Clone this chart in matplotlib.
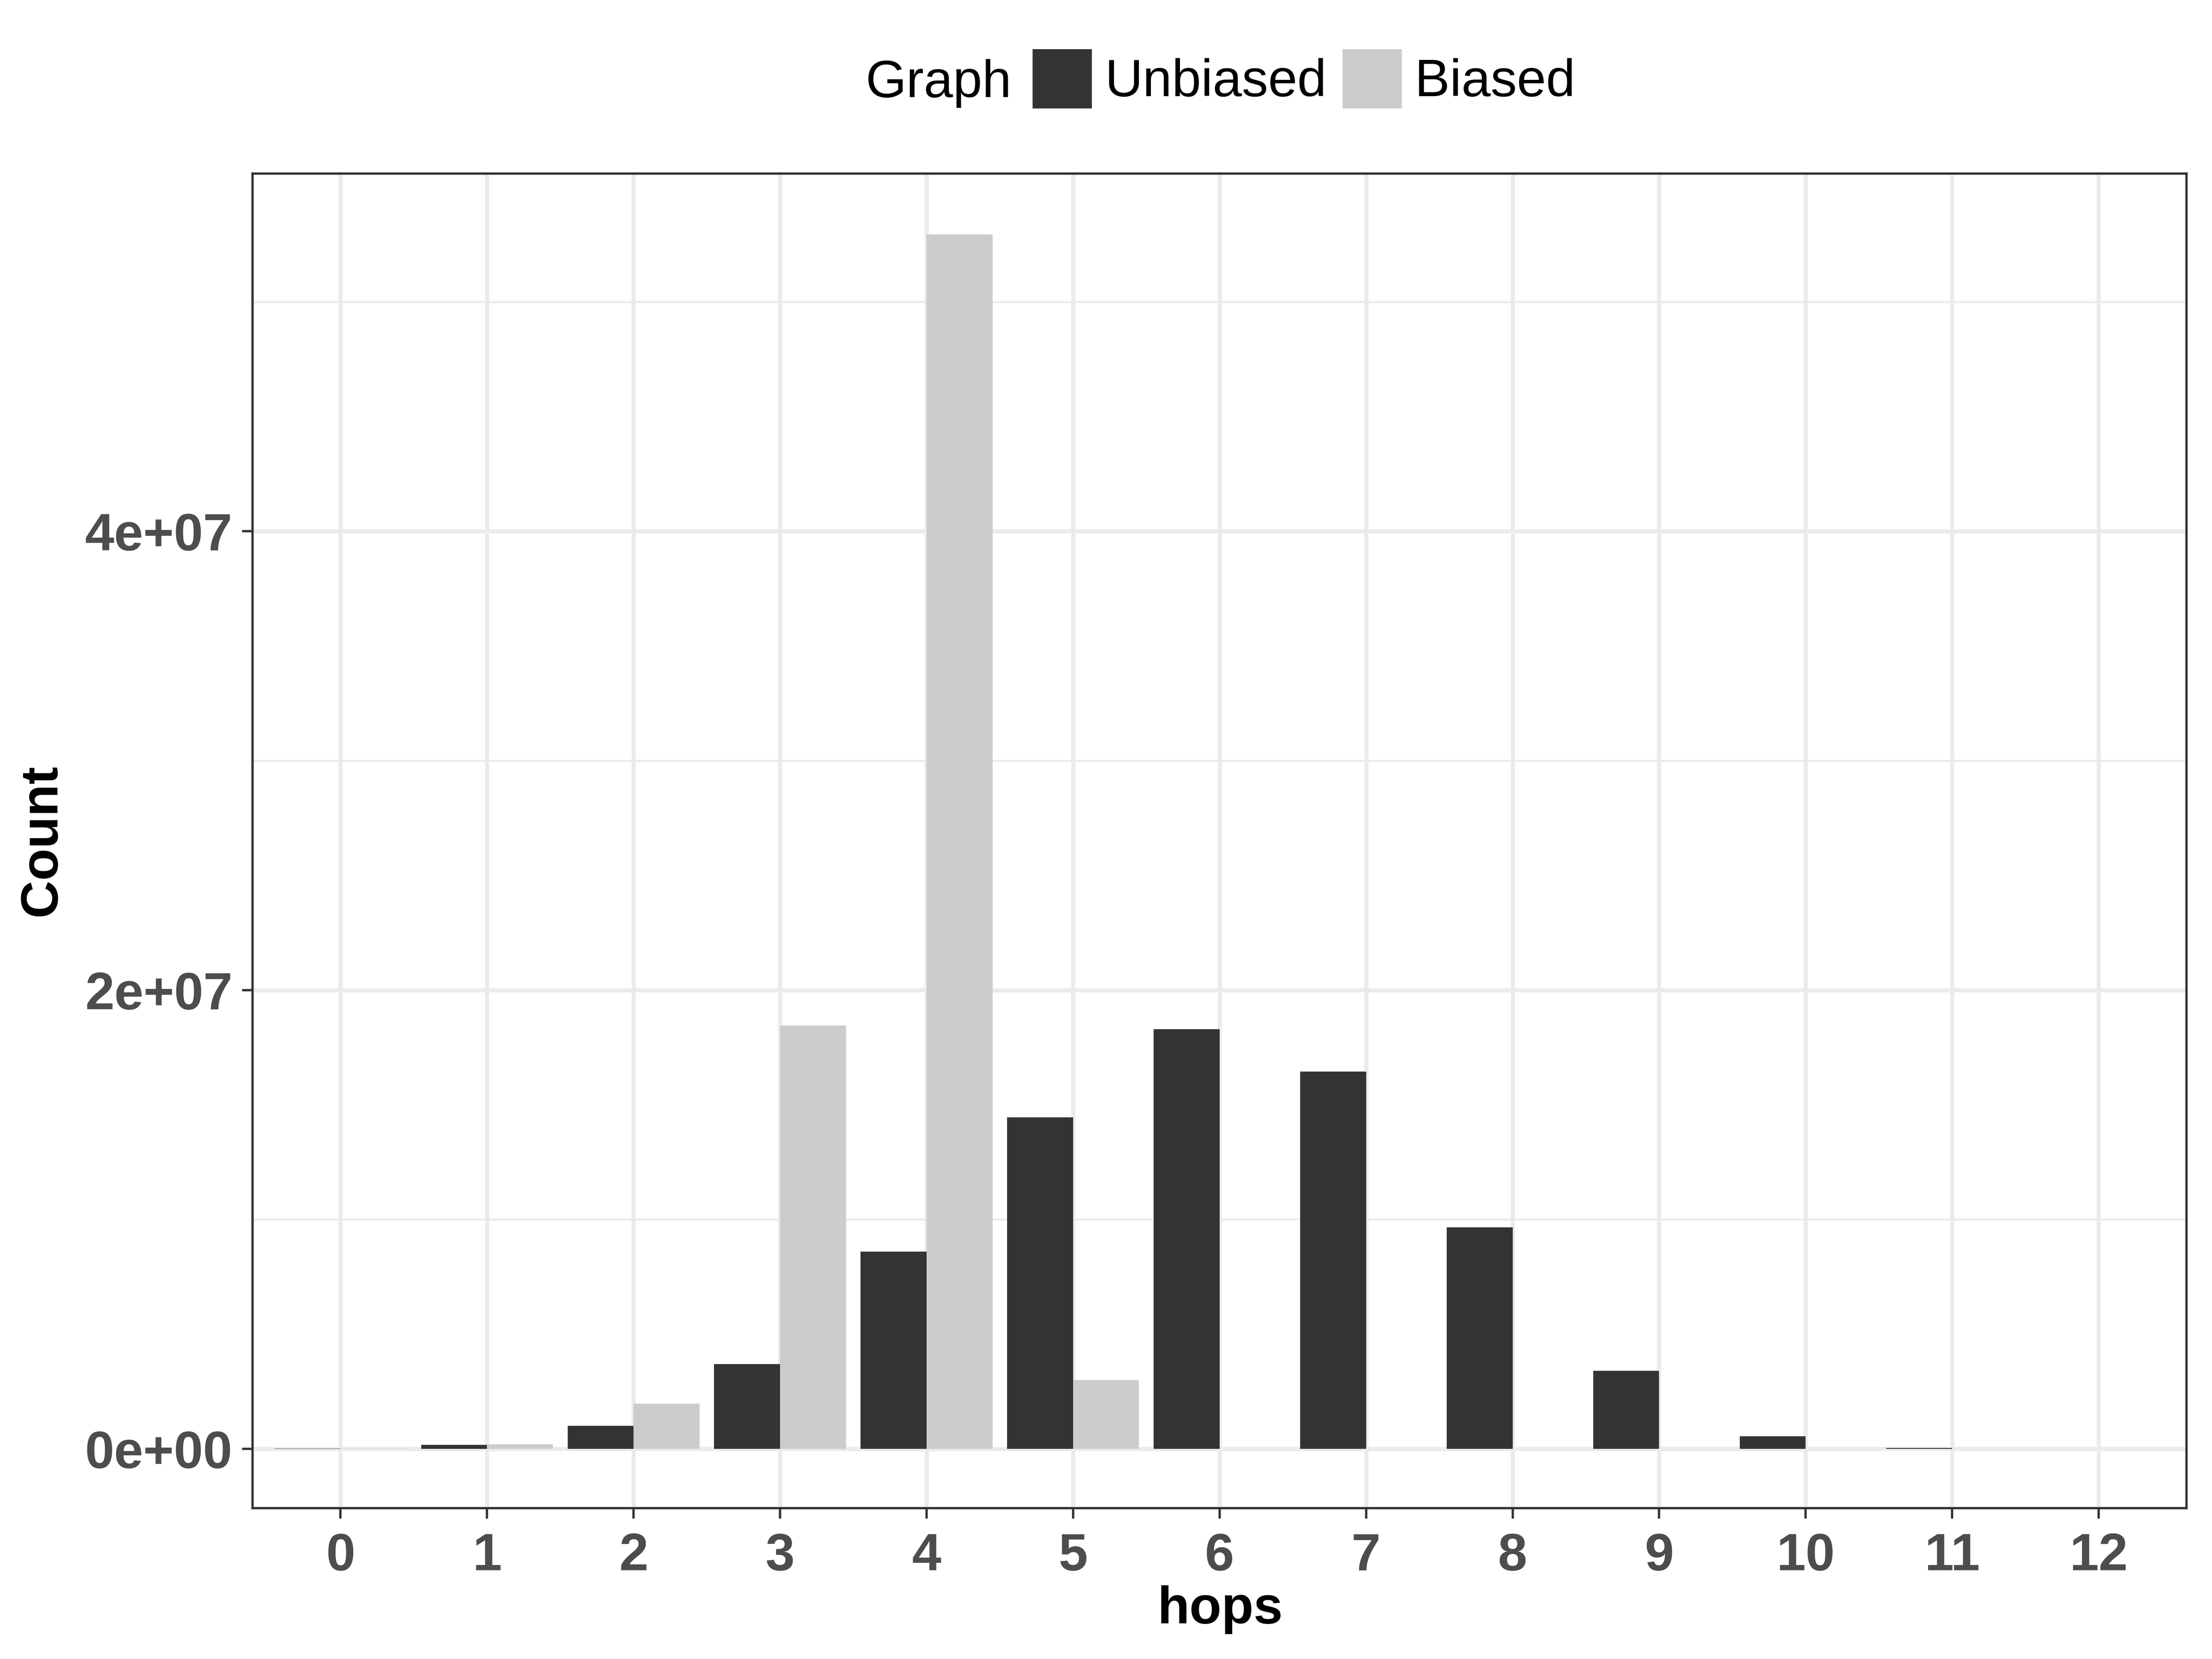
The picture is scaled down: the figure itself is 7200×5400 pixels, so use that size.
import matplotlib
matplotlib.use('Agg')
import matplotlib.pyplot as plt
import numpy as np
from matplotlib.patches import Patch

# hop counts
hops = list(range(13))
unbiased = [1.5e4, 1.7e5, 1.0e6, 3.7e6, 8.6e6, 14.45e6, 18.3e6, 16.45e6, 9.65e6, 3.4e6, 0.55e6, 4.0e4, 0]
biased = [1.5e4, 2.0e5, 1.97e6, 18.45e6, 52.95e6, 3.0e6, 0, 0, 0, 0, 0, 0, 0]
series_names = ['Unbiased', 'Biased']
series_colors = ['#333333', '#CCCCCC']
yticks = [0, 2e7, 4e7]
ytick_labels = ['0e+00', '2e+07', '4e+07']
yminor = [1e7, 3e7, 5e7]

plt.rcParams['font.family'] = ['Liberation Sans', 'DejaVu Sans']
fs = 20.5

fig = plt.figure(figsize=(12, 9), dpi=600)
ax = fig.add_axes([0.1142, 0.0910, 0.9885 - 0.1142, 0.8954 - 0.0910])

x = np.array(hops)
w = 0.45
ax.bar(x - w / 2, unbiased, width=w, color=series_colors[0], linewidth=0, zorder=3)
ax.bar(x + w / 2, biased, width=w, color=series_colors[1], linewidth=0, zorder=3)

top = max(max(unbiased), max(biased))
pad = 0.05 * top
ax.set_ylim(-0.975 * pad, top + pad)
ax.set_xlim(-0.6, len(hops) - 1 + 0.6)

ax.set_xticks(hops)
ax.set_xticklabels([str(h) for h in hops])
ax.set_yticks(yticks)
ax.set_yticklabels(ytick_labels)
ax.set_yticks(yminor, minor=True)

ax.grid(True, which='major', color='#EBEBEB', linewidth=1.6, zorder=0)
ax.grid(True, which='minor', axis='y', color='#EBEBEB', linewidth=0.8, zorder=0)
ax.set_axisbelow(True)

for s in ax.spines.values():
    s.set_color('#333333')
    s.set_linewidth(0.9)

ax.tick_params(axis='both', which='major', length=4.1, width=0.9, color='#333333',
               pad=3.8, labelsize=fs, labelcolor='#4D4D4D')
ax.tick_params(axis='x', which='major', pad=5.3)
ax.tick_params(axis='y', which='minor', length=0)
for lab in ax.get_xticklabels() + ax.get_yticklabels():
    lab.set_fontweight('bold')

fig.text(0.5515, 0.0298, 'hops', fontsize=fs, fontweight='bold', ha='center', va='center')
fig.text(0.019, 0.4935, 'Count', fontsize=fs, fontweight='bold', ha='center', va='center',
         rotation=90)

handles = [Patch(facecolor=c, edgecolor='none') for c in series_colors]
fig.legend(handles, series_names, loc='center left', bbox_to_anchor=(0.4668, 0.9525),
           ncol=2, frameon=False, fontsize=fs, handlelength=1.13, handleheight=1.36,
           handletextpad=0.25, columnspacing=0.3, borderpad=0, borderaxespad=0)
fig.text(0.4573, 0.9498, 'Graph', fontsize=fs, ha='right', va='center')

fig.savefig('out.png', dpi=600)
